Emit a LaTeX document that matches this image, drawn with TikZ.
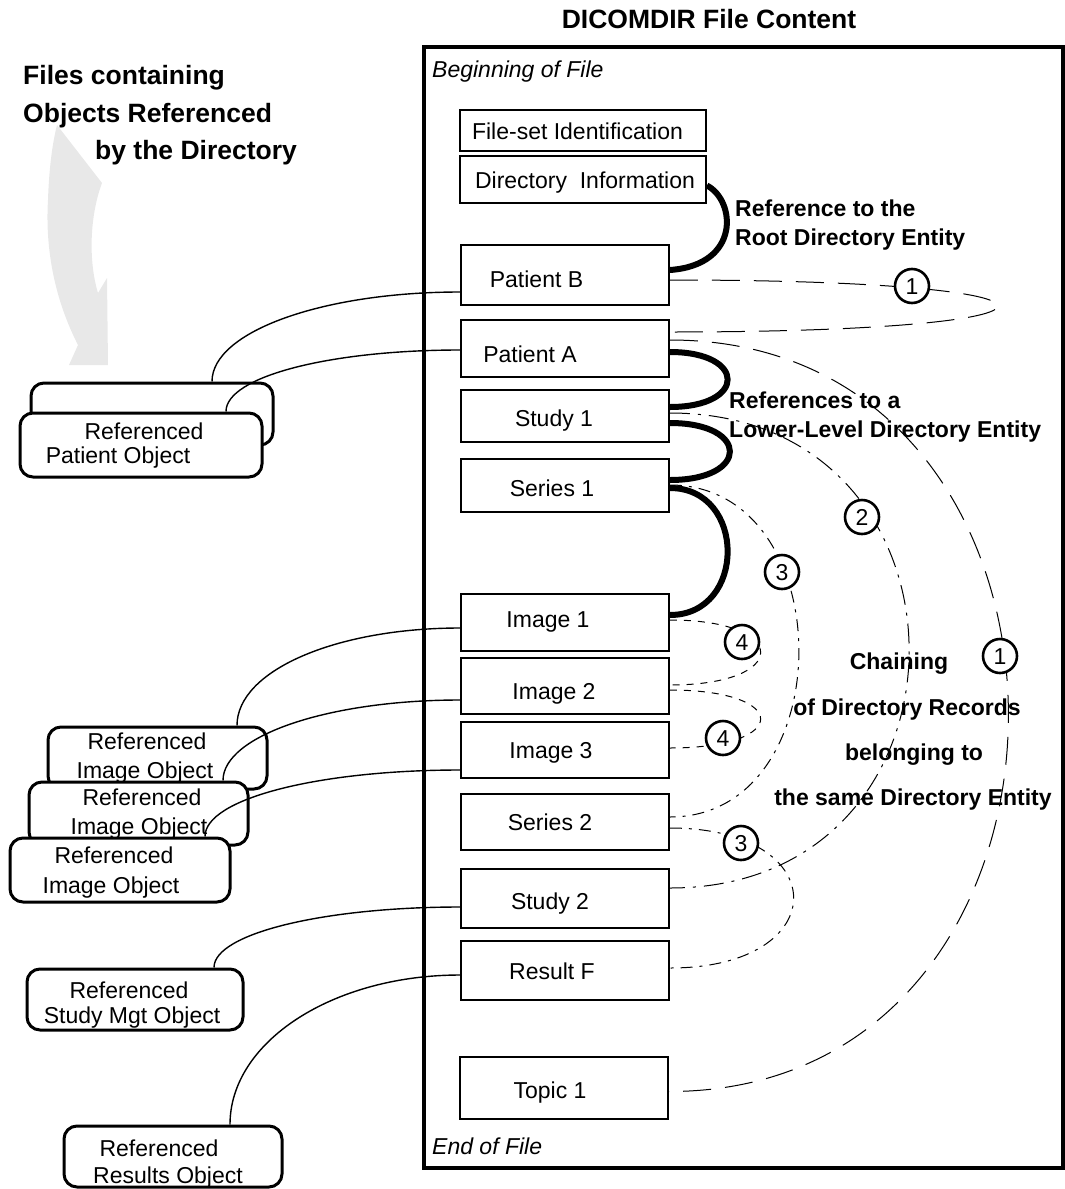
\documentclass[tikz,border=0pt]{standalone}
\usepackage{fontspec}
\setmainfont{Liberation Sans}
\definecolor{arrowgray}{RGB}{232,232,232}
\begin{document}
\begin{tikzpicture}[x=1pt,y=-1pt,
  rec/.style={draw, line width=1.8pt, fill=white, inner sep=0pt},
  obj/.style={draw, line width=3pt, rounded corners=13pt, fill=white, inner sep=0pt},
  txt/.style={font=\fontsize{23}{27}\selectfont, inner sep=0pt, text height=16.5pt, text depth=0pt},
  btxt/.style={font=\fontsize{23}{27}\selectfont\bfseries, inner sep=0pt, text height=16.5pt, text depth=0pt},
  bigtxt/.style={font=\fontsize{26.5}{30}\selectfont\bfseries, inner sep=0pt, text height=19pt, text depth=0pt},
  itxt/.style={font=\fontsize{23}{27}\selectfont\itshape, inner sep=0pt, text height=16.5pt, text depth=0pt},
  heavy link/.style={line width=6pt},
  objref/.style={line width=1.4pt},
  chainA/.style={line width=1pt, dash pattern=on 28pt off 14pt},
  chainB/.style={line width=1pt, dash pattern=on 20pt off 8pt on 3pt off 8pt},
  chainC/.style={line width=1pt, dash pattern=on 12pt off 7pt on 3pt off 7pt},
  chainD/.style={line width=1pt, dash pattern=on 7pt off 7pt},
  num/.style={draw, circle, line width=2.6pt, fill=white, minimum size=34pt, inner sep=0pt,
    font=\fontsize{23}{27}\selectfont, text height=16.5pt, text depth=0pt},
]
\useasboundingbox (0,0) rectangle (1065,1189);

% curved grey arrow pointing down towards the referenced objects
\fill[arrowgray] (57,125) -- (102,183) .. controls (90,215) and (88,260) .. (98,293)
  -- (107,278) -- (108,365) -- (69,365) -- (78,345)
  .. controls (55,300) and (45,250) .. (48,200)
  .. controls (49,170) and (52,145) .. (57,125) -- cycle;

% titles
\node[bigtxt] (title) at (709,19) {DICOMDIR File Content};
\node[bigtxt, anchor=west] (lt1) at (23,75) {Files containing};
\node[bigtxt, anchor=west] (lt2) at (23,113) {Objects Referenced};
\node[bigtxt, anchor=west] (lt3) at (95,150) {by the Directory};

% DICOMDIR file frame
\draw[line width=4pt] (424,47) rectangle (1063,1168);
\node[itxt, anchor=west] (bof) at (432,69) {Beginning of File};
\node[itxt, anchor=west] (eof) at (432,1146) {End of File};

% directory records
\node[rec, minimum width=246, minimum height=41] (fsid)  at (583,130.5) {};
\node[rec, minimum width=246, minimum height=47] (dinfo) at (583,179.5) {};
\node[rec, minimum width=208, minimum height=60] (pb)  at (565,275) {};
\node[rec, minimum width=208, minimum height=57] (pa)  at (565,348.5) {};
\node[rec, minimum width=208, minimum height=52] (s1)  at (565,416) {};
\node[rec, minimum width=208, minimum height=53] (se1) at (565,485.5) {};
\node[rec, minimum width=208, minimum height=57] (im1) at (565,622.5) {};
\node[rec, minimum width=208, minimum height=56] (im2) at (565,686) {};
\node[rec, minimum width=208, minimum height=56] (im3) at (565,750) {};
\node[rec, minimum width=208, minimum height=56] (se2) at (565,822) {};
\node[rec, minimum width=208, minimum height=59] (st2) at (565,898.5) {};
\node[rec, minimum width=208, minimum height=59] (rf)  at (565,970.5) {};
\node[rec, minimum width=208, minimum height=62] (tp)  at (564,1088) {};

\node[txt] (tfsid)  at (577.5,131) {File-set Identification};
\node[txt] (tdinfo) at (585,180) {Directory~~Information};
\node[txt] (tpb)  at (536.5,279) {Patient B};
\node[txt] (tpa)  at (530,354) {Patient A};
\node[txt] (ts1)  at (554,418) {Study 1};
\node[txt] (tse1) at (552,488) {Series 1};
\node[txt] (tim1) at (548,619) {Image 1};
\node[txt] (tim2) at (554,691) {Image 2};
\node[txt] (tim3) at (551,750) {Image 3};
\node[txt] (tse2) at (550,822) {Series 2};
\node[txt] (tst2) at (550,901) {Study 2};
\node[txt] (trf)  at (552,971) {Result F};
\node[txt] (ttp)  at (550,1090) {Topic 1};

% referenced objects outside the DICOMDIR file
\node[obj, minimum width=242, minimum height=62] (pobjb) at (152,414) {};
\node[obj, minimum width=242, minimum height=64] (pobj) at (141,445) {};
\node[txt] (tpobj1) at (144,431) {Referenced};
\node[txt] (tpobj2) at (118,455) {Patient Object};

\node[obj, minimum width=219, minimum height=62] (io1) at (157.5,758) {};
\node[txt] (tio1a) at (147,741) {Referenced};
\node[txt] (tio1b) at (145,770) {Image Object};
\node[obj, minimum width=219, minimum height=63] (io2) at (138.5,813.5) {};
\node[txt] (tio2a) at (142,797) {Referenced};
\node[txt] (tio2b) at (139,826) {Image Object};
\node[obj, minimum width=220, minimum height=64] (io3) at (120,870) {};
\node[txt] (tio3a) at (114,855) {Referenced};
\node[txt] (tio3b) at (111,885) {Image Object};

\node[obj, minimum width=216, minimum height=61] (smo) at (135,999.5) {};
\node[txt] (tsmo1) at (129,990) {Referenced};
\node[txt] (tsmo2) at (132,1015) {Study Mgt Object};

\node[obj, minimum width=218, minimum height=61] (rso) at (173,1156.5) {};
\node[txt] (trso1) at (159,1148) {Referenced};
\node[txt] (trso2) at (168,1175) {Results Object};

% references from records to the objects they point at
\draw[objref] ([yshift=-17pt]pb.west) .. controls +(-137,0) and +(0,-50) .. ([xshift=60pt]pobjb.north);
\draw[objref] ([yshift=-1.5pt]pa.west) .. controls +(-130,0) and +(0,-35) .. ([xshift=85pt]pobj.north);
\draw[objref] ([yshift=-5.5pt]im1.west) .. controls +(-124,0) and +(0,-55) .. ([xshift=79.5pt]io1.north);
\draw[objref] ([yshift=-14pt]im2.west) .. controls +(-131,0) and +(0,-45) .. ([xshift=84.5pt]io2.north);
\draw[objref] ([yshift=-20pt]im3.west) .. controls +(-141,0) and +(0,-38) .. ([xshift=85pt]io3.north);
\draw[objref] ([yshift=-8.5pt]st2.west) .. controls +(-136,0) and +(0,-34) .. ([xshift=79pt]smo.north);
\draw[objref] ([yshift=-4.5pt]rf.west) .. controls +(-127,0) and +(0,-83) .. ([xshift=57pt]rso.north);

% references to root and lower-level directory entities
\draw[heavy link] ([yshift=-6pt]dinfo.east) .. controls +(29,15) and +(71,-5) .. ([yshift=5pt]pb.east);
\draw[heavy link] ([yshift=-3.5pt]pa.east) .. controls +(77,0) and +(77,0) .. ([yshift=9pt]s1.east);
\draw[heavy link] ([yshift=-7pt]s1.east) .. controls +(80,0) and +(80,0) .. ([yshift=5.5pt]se1.east);
\draw[heavy link] ([yshift=-2.5pt]se1.east) .. controls +(77,0) and +(77,0) .. ([yshift=7.5pt]im1.east);

\node[btxt, anchor=west] (lr1) at (735,208) {Reference to the};
\node[btxt, anchor=west] (lr2) at (735,237) {Root Directory Entity};
\node[btxt, anchor=west] (ll1) at (729,400) {References to a};
\node[btxt, anchor=west] (ll2) at (729,429) {Lower-Level Directory Entity};

\node[btxt] (lc1) at (899,661) {Chaining};
\node[btxt] (lc2) at (907,707) {of Directory Records};
\node[btxt] (lc3) at (914,752) {belonging to};
\node[btxt] (lc4) at (913,797) {the same Directory Entity};

% chaining of records of the same directory entity
\draw[chainA] ([yshift=-5pt]pb.east) .. controls +(437,0) and +(437,0) .. ([yshift=16.5pt]pa.east);
\draw[chainA] ([yshift=8.5pt]pa.east) .. controls +(452,0) and +(452,0) .. ([yshift=-3.5pt]tp.east);
\draw[chainB] ([yshift=3pt]s1.east) .. controls +(319,0) and +(319,0) .. ([yshift=10.5pt]st2.east);
\draw[chainC] ([yshift=0.5pt]se1.east) .. controls +(172,0) and +(172,0) .. ([yshift=5pt]se2.east);
\draw[chainC] ([yshift=-6pt]se2.east) .. controls +(165,0) and +(165,0) .. ([yshift=2.5pt]rf.east);
\draw[chainD] ([yshift=2.5pt]im1.east) .. controls +(121,0) and +(121,0) .. ([yshift=1pt]im2.east);
\draw[chainD] ([yshift=-4pt]im2.east) .. controls +(121,0) and +(121,0) .. ([yshift=2pt]im3.east);

\node[num] (n1a) at (912,286) {1};
\node[num] (n1b) at (1000,656) {1};
\node[num] (n2)  at (862,517) {2};
\node[num] (n3a) at (782,572) {3};
\node[num] (n3b) at (741,843) {3};
\node[num] (n4a) at (742,642) {4};
\node[num] (n4b) at (723,738) {4};
\end{tikzpicture}
\end{document}
